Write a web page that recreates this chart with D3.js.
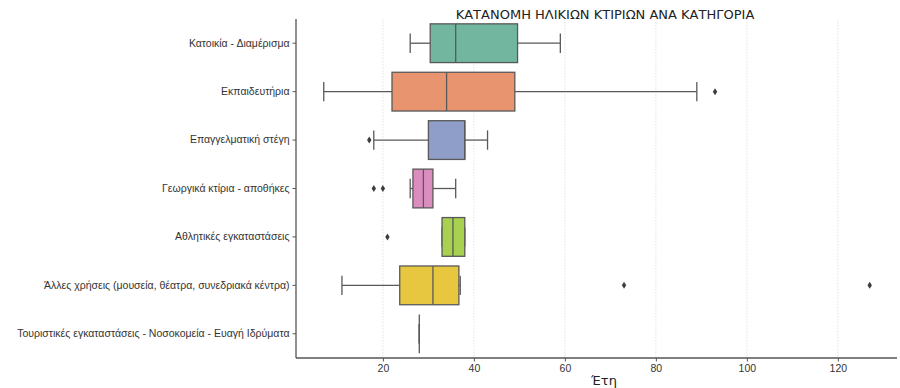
<!DOCTYPE html>
<html>
<head>
<meta charset="utf-8">
<script src="https://cdn.jsdelivr.net/npm/d3@7"></script>
<style>
  body { margin: 0; background: #fff; }
  svg { font-family: "DejaVu Sans", sans-serif; }
</style>
</head>
<body>
<div id="chart"></div>
<script>
// categories (top to bottom)
var categories = [
    "Κατοικία - Διαμέρισμα",
    "Εκπαιδευτήρια",
    "Επαγγελματική στέγη",
    "Γεωργικά κτίρια - αποθήκες",
    "Αθλητικές εγκαταστάσεις",
    "Άλλες χρήσεις (μουσεία, θέατρα, συνεδριακά κέντρα)",
    "Τουριστικές εγκαταστάσεις - Νοσοκομεία - Ευαγή Ιδρύματα"
];

// box statistics (years)
var whiskerLow  = [26, 7, 18, 26, 33, 11, 28];
var q1          = [30.4, 22, 30, 26.6, 33, 23.7, 28];
var medians     = [36, 34, 38, 28.9, 35.4, 31, 28];
var q3          = [49.6, 49, 38, 31, 38, 36.7, 28];
var whiskerHigh = [59, 89, 43, 36, 38, 37, 28];
var outliers    = [[], [93], [17], [18, 20], [21], [73, 127], []];

var xTicks = [20, 40, 60, 80, 100, 120];
var colors = ["#72b69f", "#e8956f", "#8e9ec8", "#dc8dc0", "#a7d14f", "#e6c73f", "#d6c29a"];

// set the dimensions and margins of the graph
var margin = { top: 19, right: 3, bottom: 30, left: 296 },
    width = 900 - margin.left - margin.right,
    height = 388 - margin.top - margin.bottom;

var svg = d3.select("#chart")
    .append("svg")
    .attr("width", 900)
    .attr("height", 388);

var g = svg.append("g")
    .attr("transform", "translate(" + margin.left + "," + margin.top + ")");

var x = d3.scaleLinear()
    .domain([0.9, 133])
    .range([0, width]);

var y = d3.scaleBand()
    .domain(categories)
    .range([0, height])
    .paddingInner(0.2)
    .paddingOuter(0.1);

var lineColor = "#595959";

// grid
g.selectAll(".grid")
    .data(xTicks)
    .enter().append("line")
    .attr("x1", function (d) { return x(d); })
    .attr("x2", function (d) { return x(d); })
    .attr("y1", 0)
    .attr("y2", height)
    .attr("stroke", "#dcdcdc")
    .attr("stroke-width", 0.8)
    .attr("stroke-dasharray", "1.5,1.5");

// boxes
var rows = g.selectAll(".row")
    .data(categories)
    .enter().append("g")
    .attr("class", "row");

rows.each(function (c, i) {
    var row = d3.select(this);
    var top = y(c), bw = y.bandwidth(), mid = top + bw / 2;

    // whiskers
    row.append("line")
        .attr("x1", x(whiskerLow[i])).attr("x2", x(q1[i]))
        .attr("y1", mid).attr("y2", mid)
        .attr("stroke", lineColor).attr("stroke-width", 1.3);
    row.append("line")
        .attr("x1", x(q3[i])).attr("x2", x(whiskerHigh[i]))
        .attr("y1", mid).attr("y2", mid)
        .attr("stroke", lineColor).attr("stroke-width", 1.3);
    // caps
    [whiskerLow[i], whiskerHigh[i]].forEach(function (v) {
        row.append("line")
            .attr("x1", x(v)).attr("x2", x(v))
            .attr("y1", mid - bw / 4).attr("y2", mid + bw / 4)
            .attr("stroke", lineColor).attr("stroke-width", 1.3);
    });

    // box
    if (q3[i] > q1[i]) {
        row.append("rect")
            .attr("x", x(q1[i]))
            .attr("y", top)
            .attr("width", x(q3[i]) - x(q1[i]))
            .attr("height", bw)
            .attr("fill", colors[i])
            .attr("stroke", lineColor)
            .attr("stroke-width", 1.3);
    }

    // median
    row.append("line")
        .attr("x1", x(medians[i])).attr("x2", x(medians[i]))
        .attr("y1", top).attr("y2", top + bw)
        .attr("stroke", lineColor).attr("stroke-width", 1.3);

    // outliers
    row.selectAll(".out")
        .data(outliers[i])
        .enter().append("path")
        .attr("d", function (d) {
            var px = x(d);
            return "M" + px + "," + (mid - 3.5) + "L" + (px + 2.2) + "," + mid +
                "L" + px + "," + (mid + 3.5) + "L" + (px - 2.2) + "," + mid + "Z";
        })
        .attr("fill", "#3d3d3d");
});

// axes
var xAxis = g.append("g")
    .attr("transform", "translate(0," + height + ")")
    .call(d3.axisBottom(x).tickValues(xTicks).tickSize(3.5).tickPadding(3));

var yAxis = g.append("g")
    .call(d3.axisLeft(y).tickSize(3.5).tickPadding(3));

[xAxis, yAxis].forEach(function (a) {
    a.select(".domain").attr("stroke", "#555").attr("stroke-width", 1.3);
    a.selectAll(".tick line").attr("stroke", "#555").attr("stroke-width", 1);
    a.selectAll("text").style("font-size", "10.5px").attr("fill", "#333");
});
xAxis.select(".domain").attr("d", "M0,0H" + width);
yAxis.select(".domain").attr("d", "M0,0V" + height);

// title and label
svg.append("text")
    .attr("x", 605)
    .attr("y", 19)
    .attr("text-anchor", "middle")
    .style("font-size", "13px")
    .attr("fill", "#222")
    .text("ΚΑΤΑΝΟΜΗ ΗΛΙΚΙΩΝ ΚΤΙΡΙΩΝ ΑΝΑ ΚΑΤΗΓΟΡΙΑ");

svg.append("text")
    .attr("x", 604)
    .attr("y", 385)
    .attr("text-anchor", "middle")
    .style("font-size", "13px")
    .attr("fill", "#222")
    .text("Έτη");
</script>
</body>
</html>
